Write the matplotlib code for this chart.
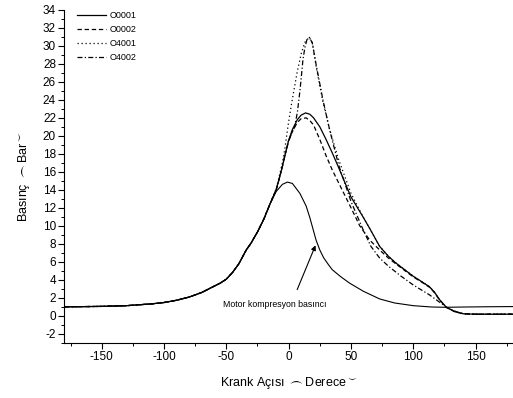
import numpy as np
import matplotlib
matplotlib.use("Agg")
import matplotlib.pyplot as plt

plt.rcParams['font.family'] = ['Liberation Sans', 'DejaVu Sans']
plt.rcParams['axes.unicode_minus'] = False
plt.rcParams['mathtext.fontset'] = 'dejavusans'

# crank angle (deg) and cylinder pressure (bar)
ang_motor = [-180, -150, -130, -110, -100, -90, -80, -70, -65, -60, -55, -50, -45, -40, -34, -30, -25, -20, -15, -10,
             -5, -1, 3, 9, 14, 17, 20, 22, 25, 28, 32, 35, 42, 49, 60, 73, 85, 100, 115, 126, 140, 160, 180]
p_motor = [0.97, 1.02, 1.1, 1.3, 1.45, 1.7, 2.05, 2.55, 2.9, 3.25, 3.6, 4.05, 4.8, 5.75, 7.3, 8.1, 9.3, 10.7, 12.4, 13.8,
           14.6, 14.85, 14.7, 13.6, 12.2, 10.9, 9.4, 8.4, 7.3, 6.45, 5.65, 5.1, 4.3, 3.6, 2.7, 1.85, 1.4, 1.1, 0.95, 0.92,
           0.95, 0.98, 1.0]

ang_o0001 = [-180, -150, -130, -110, -100, -90, -80, -70, -65, -60, -55, -50, -45, -40, -34, -30, -25, -20, -15, -10,
             -8, -5, -3, 0, 3, 7, 10, 13.6, 17, 20, 25, 30, 35, 40, 50, 60, 65, 73, 80, 86, 100, 107, 113, 117, 121,
             126.5, 133, 140, 150, 180]
p_o0001 = [0.97, 1.02, 1.1, 1.3, 1.45, 1.7, 2.05, 2.55, 2.9, 3.25, 3.6, 4.05, 4.8, 5.75, 7.3, 8.1, 9.3, 10.7, 12.4, 14.0,
           15.0, 16.6, 17.8, 19.5, 20.7, 21.8, 22.3, 22.55, 22.4, 22.0, 21.0, 19.6, 18.1, 16.5, 13.2, 10.9, 9.7, 7.7,
           6.6, 5.85, 4.37, 3.75, 3.2, 2.6, 1.78, 0.92, 0.45, 0.2, 0.15, 0.15]

ang_o0002 = [-180, -150, -130, -110, -100, -90, -80, -70, -65, -60, -55, -50, -45, -40, -34, -30, -25, -20, -15, -10,
             -8, -5, -3, 0, 3, 7, 10, 14, 17, 20, 25, 30, 35, 40, 50, 57, 65, 73, 80, 86, 100, 107, 113, 117, 121,
             126.5, 133, 140, 150, 180]
p_o0002 = [0.97, 1.02, 1.1, 1.3, 1.45, 1.7, 2.05, 2.55, 2.9, 3.25, 3.6, 4.05, 4.8, 5.75, 7.3, 8.1, 9.3, 10.7, 12.4, 14.0,
           15.0, 16.6, 17.8, 19.4, 20.5, 21.5, 21.9, 22.0, 21.7, 21.2, 19.6, 17.8, 16.2, 14.8, 12.0, 10.0, 8.4, 7.3,
           6.4, 5.75, 4.3, 3.7, 3.15, 2.55, 1.75, 0.92, 0.45, 0.2, 0.15, 0.15]

ang_o4001 = [-180, -150, -130, -110, -100, -90, -80, -70, -65, -60, -55, -50, -45, -40, -34, -30, -25, -20, -15, -10,
             -8, -5, -3, -0.6, 2, 4.8, 7, 10.2, 13, 16.5, 19, 22.2, 27.5, 32.9, 40, 50, 60, 65, 73, 80, 86, 100, 107,
             113, 117, 121, 126.5, 133, 140, 150, 180]
p_o4001 = [0.97, 1.02, 1.1, 1.3, 1.45, 1.7, 2.05, 2.55, 2.9, 3.25, 3.6, 4.05, 4.8, 5.75, 7.3, 8.1, 9.3, 10.7, 12.4, 14.1,
           15.2, 17.0, 18.6, 21.0, 23.3, 25.5, 27.2, 29.2, 30.4, 30.95, 30.4, 27.6, 23.8, 20.7, 17.4, 13.6, 10.9, 9.7,
           7.7, 6.6, 5.85, 4.37, 3.75, 3.2, 2.6, 1.78, 0.92, 0.45, 0.2, 0.15, 0.15]

ang_o4002 = [-180, -150, -130, -110, -100, -90, -80, -70, -65, -60, -55, -50, -45, -40, -34, -30, -25, -20, -15, -10,
             -8, -5, -3, 0, 3, 4.8, 7, 8.8, 10, 11.5, 13, 14.7, 16.8, 19, 22.2, 27.5, 33, 40, 50, 59.6, 66, 73, 80,
             90, 100, 113, 120, 127, 135, 140, 150, 180]
p_o4002 = [0.97, 1.02, 1.1, 1.3, 1.45, 1.7, 2.05, 2.55, 2.9, 3.25, 3.6, 4.05, 4.8, 5.75, 7.3, 8.1, 9.3, 10.7, 12.4, 14.0,
           15.0, 16.6, 17.8, 19.5, 20.4, 21.0, 22.6, 24.7, 26.3, 28.5, 29.8, 30.7, 30.95, 30.3, 27.8, 24.0, 20.6, 16.8,
           12.7, 9.6, 7.7, 6.4, 5.5, 4.4, 3.4, 2.3, 1.6, 0.9, 0.4, 0.2, 0.15, 0.15]

fig = plt.figure(figsize=(5.13, 3.98), dpi=100)
ax = fig.add_axes([0.1253, 0.1394, 0.8747, 0.8355])

lw = 0.9
ax.plot(ang_o0001, p_o0001, color='k', lw=lw, ls='-', label='O0001')
ax.plot(ang_o0002, p_o0002, color='k', lw=lw, ls=(0, (3.5, 2.2)), label='O0002')
ax.plot(ang_o4001, p_o4001, color='k', lw=lw, ls=(0, (1, 2.2)), label='O4001')
ax.plot(ang_o4002, p_o4002, color='k', lw=lw, ls=(0, (4, 1.8, 1, 1.8)), label='O4002')
ax.plot(ang_motor, p_motor, color='k', lw=0.8, ls='-')

ax.text(-10.8, 1.2, 'Motor kompresyon basıncı', fontsize=6.3, ha='center', va='center')
ax.annotate('', xy=(22.4, 8.1), xytext=(6.0, 2.6),
            arrowprops=dict(arrowstyle='-|>', color='k', lw=0.8, mutation_scale=7))

ax.set_xlim(-180, 180)
ax.set_ylim(-3, 34)
ax.set_xticks([-150, -100, -50, 0, 50, 100, 150])
ax.set_xticks(np.arange(-175, 180, 50), minor=True)
ax.set_yticks(np.arange(-2, 35, 2))
ax.set_yticks(np.arange(-3, 35, 1), minor=True)
ax.tick_params(which='major', direction='out', length=4, width=0.8, labelsize=8.5, pad=2)
ax.tick_params(which='minor', direction='out', length=2, width=0.7)
ax.spines['top'].set_visible(False)
ax.spines['right'].set_visible(False)

ax.set_xlabel(r'Krank Açısı $\frown$Derece$^{\smile}$', fontsize=9, labelpad=9)
ax.set_ylabel(r'Basınç $\frown$Bar$^{\smile}$', fontsize=9, labelpad=8)

ax.legend(loc='upper left', bbox_to_anchor=(0.01, 1.02), frameon=False, fontsize=6.5,
          handlelength=3.2, labelspacing=0.55, handletextpad=0.4)

fig.savefig('out.png', dpi=100)
